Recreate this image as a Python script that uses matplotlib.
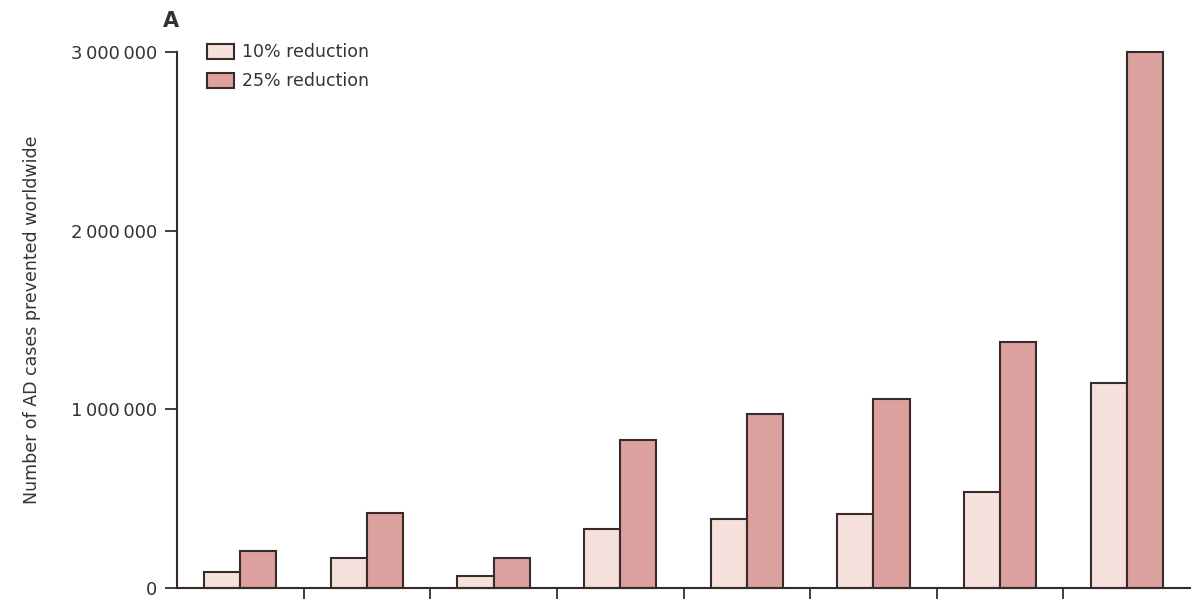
import matplotlib
matplotlib.use("Agg")
import matplotlib.pyplot as plt
import numpy as np

# cases prevented per scenario group
groups = ["1", "2", "3", "4", "5", "6", "7", "8"]
reduction_10 = [88000, 170000, 66000, 328000, 387000, 415000, 536000, 1149000]
reduction_25 = [207000, 421000, 170000, 828000, 972000, 1056000, 1374000, 3000000]
ytick_values = [0, 1000000, 2000000, 3000000]
ytick_labels = ["0", "1\u2009000\u2009000", "2\u2009000\u2009000", "3\u2009000\u2009000"]

light = "#f5e0dc"
dark = "#dca09e"
edge = "#3a2b2b"
txt = "#333333"

fig = plt.figure(figsize=(11.91, 5.99), dpi=100)
ax = fig.add_axes([0.1486, 0.0184, 0.8506, 0.895])

x = np.arange(len(groups))
w = 0.285
ax.bar(x - w / 2, reduction_10, w, color=light, edgecolor=edge, linewidth=1.5,
       label="10% reduction", clip_on=False)
ax.bar(x + w / 2, reduction_25, w, color=dark, edgecolor=edge, linewidth=1.5,
       label="25% reduction", clip_on=False)

ax.set_xlim(-0.5, len(groups) - 0.5)
ax.set_ylim(0, 3000000)

for s in ["top", "right"]:
    ax.spines[s].set_visible(False)
for s in ["left", "bottom"]:
    ax.spines[s].set_color(edge)
    ax.spines[s].set_linewidth(1.5)

ax.set_yticks(ytick_values)
ax.set_yticklabels(ytick_labels, fontsize=13, color=txt)
ax.tick_params(axis="y", length=9, width=1.3, color=edge, pad=5)

# separators between groups, no labels
ax.set_xticks(np.arange(0.5, len(groups) - 0.5, 1.0))
ax.set_xticklabels([])
ax.tick_params(axis="x", length=12, width=1.3, color=edge)

ax.set_ylabel("Number of AD cases prevented worldwide", fontsize=12.5, color=txt,
              labelpad=22)

leg = ax.legend(loc="upper left", bbox_to_anchor=(0.014, 1.045), frameon=False,
                fontsize=12.5, handlelength=1.55, handleheight=0.95, handletextpad=0.45,
                labelspacing=0.62, labelcolor=txt)

fig.text(0.137, 0.955, "A", fontsize=15, fontweight="bold", color=txt)

fig.savefig("out.png", dpi=100)
